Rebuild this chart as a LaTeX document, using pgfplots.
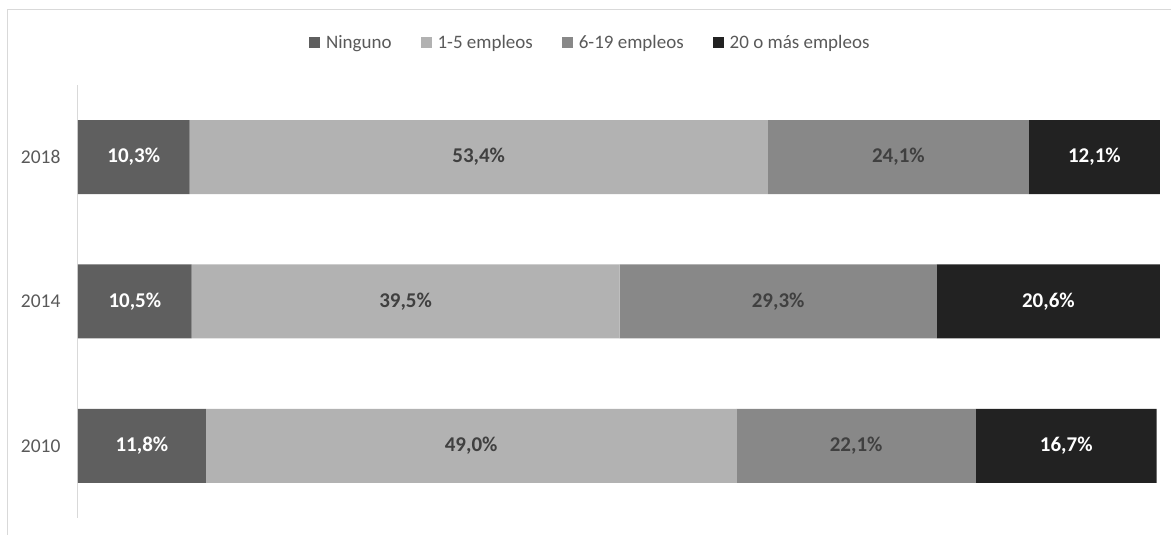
\documentclass[border=0pt]{standalone}
\usepackage{pgfplots}
\usepackage{pgfplotstable}
\pgfplotsset{compat=1.18}
\usepackage{fontspec}
\setmainfont{Carlito}
\definecolor{cNin}{HTML}{5F5F5F}
\definecolor{cA}{HTML}{B2B2B2}
\definecolor{cB}{HTML}{888888}
\definecolor{cC}{HTML}{222222}
\definecolor{txt}{HTML}{595959}
\definecolor{lbl}{HTML}{404040}
\definecolor{frame}{HTML}{D9D9D9}
\pgfplotstableread{
y a b c d
0 11.8 49.0 22.1 16.7
1 10.5 39.5 29.3 20.6
2 10.3 53.4 24.1 12.1
}\data
\begin{document}
\begin{tikzpicture}[x=1pt,y=1pt]
\useasboundingbox (0,0) rectangle (1171,535);
\draw[frame,line width=1pt] (7,0) -- (7,525) -- (1171,525);
\pgfplotsset{commonax/.style={
  at={(78pt,17pt)}, anchor=south west, scale only axis,
  width=1083pt, height=433pt,
  xmin=0, xmax=100, ymin=-0.5, ymax=2.5,
  /pgf/number format/assume math mode=true,
}}
\begin{axis}[commonax,
  xbar stacked, bar width=74pt,
  axis lines*=left,
  x axis line style={draw=none},
  y axis line style={draw=frame, line width=1pt},
  xtick=\empty,
  ytick={0,1,2}, yticklabels={2010,2014,2018},
  major tick length=0pt,
  yticklabel style={font=\fontsize{19.5}{22}\selectfont, text=txt, xshift=-14pt},
  legend style={at={(0.473,1.097)}, anchor=center, draw=none, fill=none,
    legend columns=-1, font=\fontsize{19}{22}\selectfont, text=txt,
    /tikz/every odd column/.append style={column sep=4pt},
    /tikz/every even column/.append style={column sep=27pt},
    inner sep=0pt, cells={anchor=west}},
  legend image code/.code={\fill[#1] (0pt,-5.5pt) rectangle (11pt,5.5pt);},
]
\addplot[fill=cNin, draw=none] table[x=a, y=y] {\data};
\addplot[fill=cA, draw=none] table[x=b, y=y] {\data};
\addplot[fill=cB, draw=none] table[x=c, y=y] {\data};
\addplot[fill=cC, draw=none] table[x=d, y=y] {\data};
\legend{Ninguno, 1-5 empleos, 6-19 empleos, 20 o más empleos}
\end{axis}
\begin{axis}[commonax, hide axis,
  nodes near coords={\pgfmathprintnumber[use comma,fixed,fixed zerofill,precision=1]{\pgfplotspointmeta}\%},
  nodes near coords align=center,
  every node near coord/.append style={anchor=center, font=\fontsize{21}{24}\selectfont\bfseries},
  point meta=explicit,
]
\addplot[only marks, mark=none, nodes near coords style={text=white}]
  table[x expr=\thisrow{a}/2, y=y, meta=a] {\data};
\addplot[only marks, mark=none, nodes near coords style={text=lbl}]
  table[x expr=\thisrow{a}+\thisrow{b}/2, y=y, meta=b] {\data};
\addplot[only marks, mark=none, nodes near coords style={text=lbl}]
  table[x expr=\thisrow{a}+\thisrow{b}+\thisrow{c}/2, y=y, meta=c] {\data};
\addplot[only marks, mark=none, nodes near coords style={text=white}]
  table[x expr=\thisrow{a}+\thisrow{b}+\thisrow{c}+\thisrow{d}/2, y=y, meta=d] {\data};
\end{axis}
\end{tikzpicture}
\end{document}
